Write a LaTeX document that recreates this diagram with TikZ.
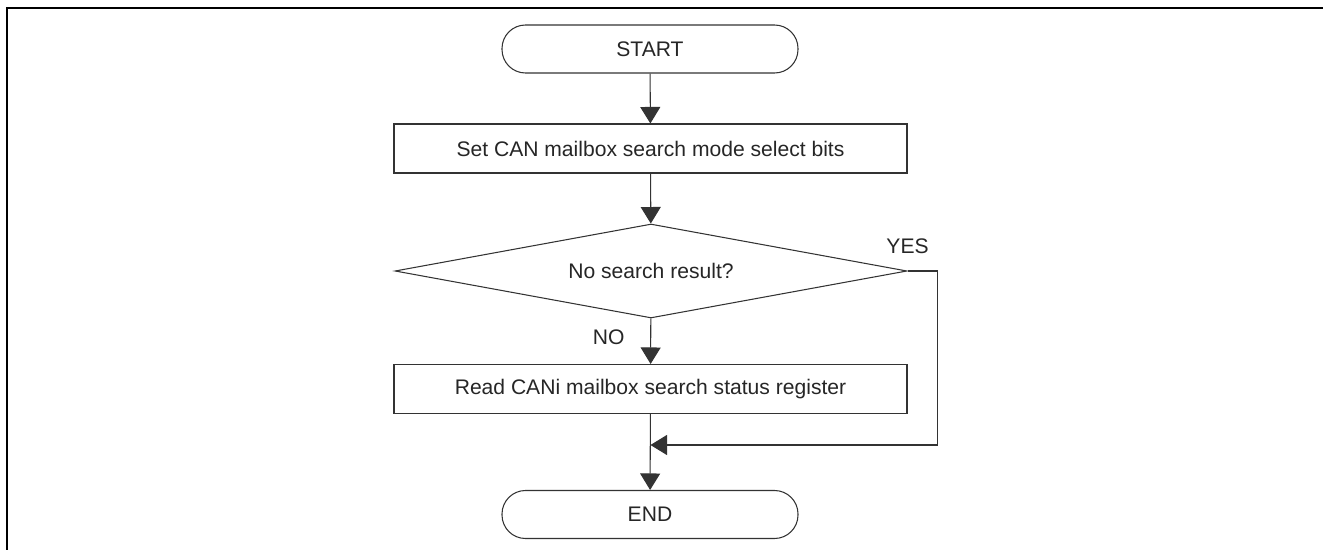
\documentclass[tikz,border=0pt]{standalone}
\usepackage{fontspec}
\setmainfont{Liberation Sans}
\usetikzlibrary{positioning, arrows.meta, shapes.geometric}
\tikzset{>={Triangle[length=0.33cm, width=0.4cm]}}
\colorlet{linegray}{black!80}

\begin{document}
\begin{tikzpicture}[node distance=1cm, color=linegray, line width=0.6pt,
    every node/.style={font=\fontsize{12pt}{14pt}\selectfont, text=black!85},
    terminal/.style={draw, rounded corners=0.47cm, minimum width=5.92cm, minimum height=0.96cm},
    stepbox/.style={draw, minimum width=10.26cm, minimum height=0.98cm},
    decision/.style={draw, diamond, shape aspect=5.4, inner sep=0pt, minimum width=10.24cm, minimum height=1.88cm}]
  \useasboundingbox (0,0) rectangle (26.46,-11);
  % Frame
  \draw[black, line width=1.5pt] (26.46,-0.16) -- (0.14,-0.16) -- (0.14,-11);

  % Blocks
  \node[terminal] (start) at (13.0,-0.98) {START};
  \node[stepbox] (setbits) at (13.01,-2.97) {Set CAN mailbox search mode select bits};
  \node[decision] (check) at (13.02,-5.42) {No search result?};
  \node[stepbox] (readreg) at (13.01,-7.78) {Read CANi mailbox search status register};
  \node[terminal] (stop) at (13.0,-10.29) {END};
  \coordinate (join) at (13.01,-8.9);

  % Labels
  \node[inner sep=0pt, above=0.33cm of check.east] (yes) {YES};
  \node[inner sep=0pt, below left=0.21cm and 0.52cm of check.south] (no) {NO};

  % Arrows
  \draw[->] (start) -- (setbits);
  \draw[->] (setbits) -- (check);
  \draw[->] (check) -- (readreg);
  \draw[->] (readreg) -- (stop);
  \draw[->] (check.east) -- ++(0.6,0) |- (join);
\end{tikzpicture}
\end{document}
